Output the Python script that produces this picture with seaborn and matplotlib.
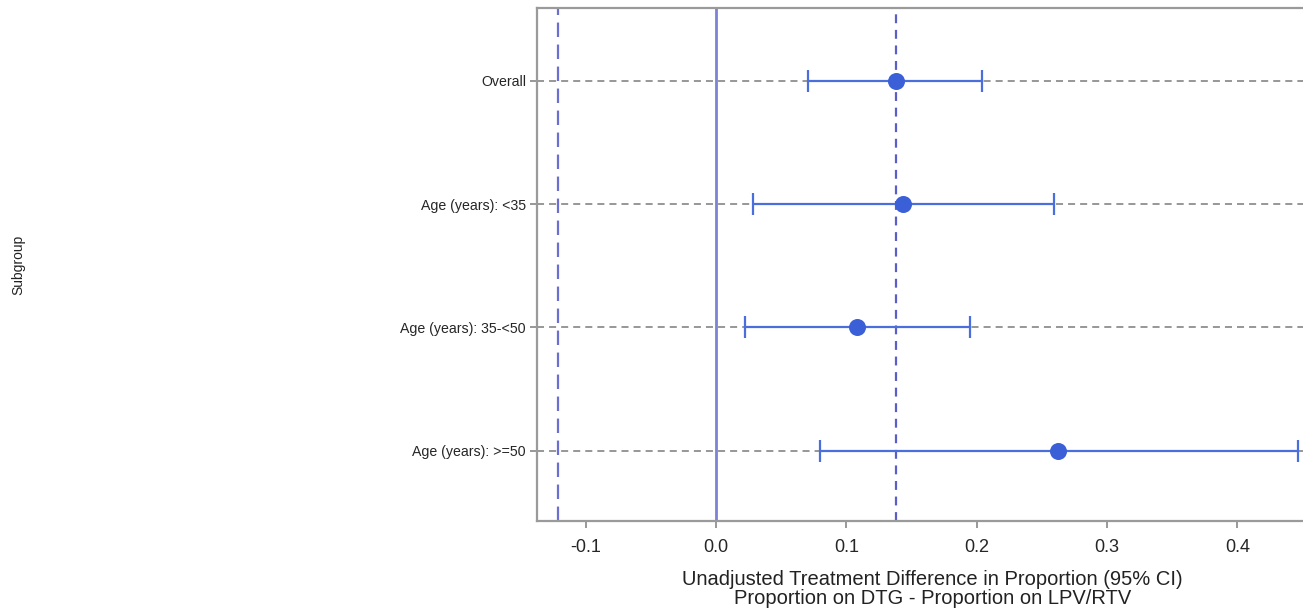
import matplotlib
matplotlib.use("Agg")
import matplotlib.pyplot as plt
import seaborn as sns
import pandas as pd
import numpy as np

subgroups = ["Overall", "Age (years): <35", "Age (years): 35-<50", "Age (years): >=50"]
estimate = [0.138, 0.1435, 0.108, 0.2625]
lower = [0.0706, 0.028, 0.022, 0.0798]
upper = [0.204, 0.2594, 0.195, 0.4467]
ref_margin = -0.121
ref_zero = 0.0
ref_overall = 0.138
xticks = [-0.1, 0.0, 0.1, 0.2, 0.3, 0.4]

sns.set_style("white")
plt.rcParams['font.family'] = ['Liberation Sans', 'DejaVu Sans']

df = pd.DataFrame({"subgroup": subgroups, "est": estimate, "lo": lower, "hi": upper})
df["pos"] = np.arange(len(df))

fig = plt.figure(figsize=(13.03, 6.13), dpi=100)
ax = fig.add_axes([537 / 1303, (613 - 521) / 613, 791 / 1303, 513 / 613])

ax.set_xlim(-0.1374, 0.4696)
ax.set_ylim(3.57, -0.59)

# horizontal dashed gridlines at each subgroup
ax.set_yticks(df["pos"])
ax.set_yticklabels(subgroups, fontsize=10.2)
ax.yaxis.grid(True, linestyle=(0, (4.6, 3.3)), color="#7a7a7a", linewidth=1.1)
ax.set_axisbelow(True)

# reference lines
ax.axvline(ref_margin, color="#6b70d0", linewidth=1.6, linestyle=(0, (6.5, 3.4)), zorder=2)
ax.axvline(ref_zero, color="#7d82d6", linewidth=2.0, zorder=2)
ax.axvline(ref_overall, color="#5a5fc8", linewidth=1.6, linestyle=(0, (4.0, 3.0)), zorder=2)

# confidence intervals
ax.errorbar(df["est"], df["pos"], xerr=[df["est"] - df["lo"], df["hi"] - df["est"]],
            fmt="none", ecolor="#4a6fdc", elinewidth=1.6, capsize=8, capthick=1.6, zorder=3)
# point estimates
sns.scatterplot(data=df, x="est", y="pos", ax=ax, s=150, color="#3a5fd6",
                edgecolor="#3a5fd6", linewidth=0, zorder=4, legend=False)

ax.set_xticks(xticks)
ax.set_xticklabels([f"{t:.1f}" for t in xticks], fontsize=13)
ax.tick_params(axis="x", bottom=True, length=5, width=1.2, color="#888888", pad=8)
ax.tick_params(axis="y", left=True, length=5, width=1.1, color="#7a7a7a", pad=3)

for s in ["top", "left", "bottom", "right"]:
    ax.spines[s].set_color("#9a9a9a")
    ax.spines[s].set_linewidth(1.6)

ax.set_xlabel("Unadjusted Treatment Difference in Proportion (95% CI)\nProportion on DTG - Proportion on LPV/RTV",
              fontsize=14.5, color="#222222", labelpad=10, linespacing=0.98)
ax.set_ylabel("")
fig.text(18 / 1303, 1 - 265 / 613, "Subgroup", rotation=90, fontsize=10,
         ha="center", va="center", color="#222222")

fig.savefig("out.png", dpi=100)
